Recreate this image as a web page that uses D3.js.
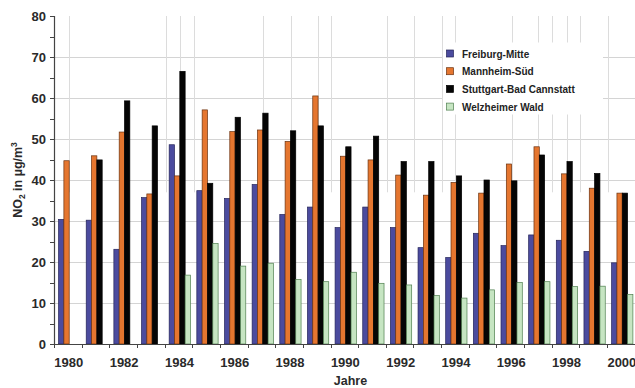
<!DOCTYPE html>
<html>
<head>
<meta charset="utf-8">
<script src="https://cdn.jsdelivr.net/npm/d3@7"></script>
<style>
  html, body { margin: 0; padding: 0; background: #fff; }
  svg { display: block; font-family: "Liberation Sans", Arial, sans-serif; }
</style>
</head>
<body>
<svg id="chart" width="635" height="388"></svg>
<script>
// ---- data ----
const years = d3.range(1980, 2001);
const seriesNames = ["Freiburg-Mitte", "Mannheim-Süd", "Stuttgart-Bad Cannstatt", "Welzheimer Wald"];
const freiburg  = [30.4, 30.2, 23.1, 35.7, 48.6, 37.4, 35.5, 38.9, 31.6, 33.4, 28.4, 33.4, 28.4, 23.5, 21.1, 27.0, 24.0, 26.6, 25.3, 22.6, 19.8];
const mannheim  = [44.7, 45.9, 51.7, 36.6, 41.0, 57.1, 51.8, 52.2, 49.4, 60.5, 45.8, 44.9, 41.2, 36.3, 39.4, 36.8, 43.9, 48.1, 41.5, 38.0, 36.8];
const stuttgart = [null, 44.9, 59.3, 53.2, 66.5, 39.2, 55.3, 56.3, 52.0, 53.2, 48.1, 50.7, 44.5, 44.5, 41.0, 40.0, 39.8, 46.1, 44.5, 41.6, 36.8];
const welzheim  = [null, null, null, null, 16.8, 24.5, 19.0, 19.7, 15.7, 15.2, 17.5, 14.8, 14.4, 11.8, 11.2, 13.2, 15.0, 15.2, 14.0, 14.1, 12.1];
const yTicks = [0, 10, 20, 30, 40, 50, 60, 70, 80];
const yMinorTicks = d3.range(0, 85, 5);
const xTickLabels = [1980, 1982, 1984, 1986, 1988, 1990, 1992, 1994, 1996, 1998, 2000];
// faint vertical lines visible in the upper part of the original scan (in year units)
const ghostLines = [1980.04, 1983.54, 1984.06, 1984.56, 1987.05, 1988.06, 1989.06, 1989.52, 1991.53, 1992.53, 1993.52, 1994.0, 1996.05, 1997.02, 1997.5, 1998.04, 1998.52, 1999.55];

const seriesData = [freiburg, mannheim, stuttgart, welzheim];
const fills   = ["#4b4b9e", "#e5762f", "#050505", "#c6e5c2"];
const strokes = ["#25255a", "#6a3210", "#000000", "#4f7f4f"];

// ---- layout ----
const svg = d3.select("#chart");
const mLeft = 54, mRight = 634.7, mTop = 16, mBottom = 344;

const x0 = d3.scaleBand().domain(years).range([mLeft, mRight]).padding(0);
const bw = x0.bandwidth();
const x1 = d3.scaleBand().domain(d3.range(4)).range([bw * 0.165, bw * 0.935]).padding(0);
const xc = d3.scaleLinear().domain([1980, 2000]).range([x0(1980) + bw / 2, x0(2000) + bw / 2]);
const y = d3.scaleLinear().domain([0, 80]).range([mBottom, mTop]);

// horizontal grid
svg.append("g").selectAll("line").data(yTicks.filter(v => v > 0 && v < 80)).join("line")
  .attr("x1", mLeft).attr("x2", 635)
  .attr("y1", d => Math.round(y(d)) + 0.5).attr("y2", d => Math.round(y(d)) + 0.5)
  .attr("stroke", "#d4d4d4").attr("stroke-width", 1);

// faint vertical lines (upper part only)
svg.append("g").selectAll("line").data(ghostLines).join("line")
  .attr("x1", d => Math.round(xc(d)) + 0.5).attr("x2", d => Math.round(xc(d)) + 0.5)
  .attr("y1", mTop).attr("y2", y(37))
  .attr("stroke", "#dcdcdc").attr("stroke-width", 1);

// legend background (hides grid)
const legX = 450, legY = 53.5, legStep = 17.7;
svg.append("rect").attr("x", legX - 7).attr("y", legY - 11).attr("width", 160).attr("height", 72).attr("fill", "#fff");

// bars
const barsG = svg.append("g");
years.forEach((yr, i) => {
  seriesData.forEach((arr, s) => {
    const v = arr[i];
    if (v == null) return;
    barsG.append("rect")
      .attr("x", x0(yr) + x1(s))
      .attr("y", y(v))
      .attr("width", x1.bandwidth())
      .attr("height", y(0) - y(v))
      .attr("fill", fills[s])
      .attr("stroke", strokes[s])
      .attr("stroke-width", 0.7);
  });
});

// y axis
const axisColor = "#444";
svg.append("line").attr("x1", mLeft + 0.5).attr("x2", mLeft + 0.5).attr("y1", mTop).attr("y2", mBottom)
  .attr("stroke", axisColor).attr("stroke-width", 1.2);
svg.append("g").selectAll("line").data(yMinorTicks).join("line")
  .attr("x1", mLeft - 4).attr("x2", mLeft)
  .attr("y1", d => Math.round(y(d)) + 0.5).attr("y2", d => Math.round(y(d)) + 0.5)
  .attr("stroke", axisColor).attr("stroke-width", 1);
svg.append("g").selectAll("text").data(yTicks).join("text")
  .attr("x", mLeft - 8).attr("y", d => y(d) + 4.5)
  .attr("text-anchor", "end")
  .attr("font-size", 13).attr("font-weight", "bold").attr("fill", "#2a2a2a")
  .text(d => d);

// x axis
svg.append("line").attr("x1", mLeft).attr("x2", 635).attr("y1", mBottom + 0.5).attr("y2", mBottom + 0.5)
  .attr("stroke", axisColor).attr("stroke-width", 1.2);
svg.append("g").selectAll("line").data(years.concat([2001])).join("line")
  .attr("x1", d => Math.round(d === 2001 ? mRight : x0(d)) + 0.5)
  .attr("x2", d => Math.round(d === 2001 ? mRight : x0(d)) + 0.5)
  .attr("y1", mBottom).attr("y2", mBottom + 4)
  .attr("stroke", axisColor).attr("stroke-width", 1);
svg.append("g").selectAll("text").data(xTickLabels).join("text")
  .attr("x", d => x0(d) + bw / 2 + 1).attr("y", mBottom + 23)
  .attr("text-anchor", "middle")
  .attr("font-size", 13).attr("font-weight", "bold").attr("fill", "#2a2a2a")
  .text(d => d);

// axis titles
svg.append("text").attr("x", (mLeft + 635) / 2 + 6).attr("y", 385)
  .attr("text-anchor", "middle").attr("font-size", 12.5).attr("font-weight", "bold").attr("fill", "#2a2a2a")
  .text("Jahre");

const yt = svg.append("text")
  .attr("transform", "translate(22,180) rotate(-90)")
  .attr("text-anchor", "middle").attr("font-size", 12.5).attr("font-weight", "bold").attr("fill", "#2a2a2a");
yt.append("tspan").text("NO");
yt.append("tspan").attr("font-size", 8.5).attr("dy", 3).text("2");
yt.append("tspan").attr("dy", -3).text(" in µg/m");
yt.append("tspan").attr("font-size", 8.5).attr("dy", -5).text("3");

// legend
const leg = svg.append("g");
seriesNames.forEach((name, s) => {
  const cy = legY + s * legStep;
  leg.append("rect").attr("x", legX - 3.5).attr("y", cy - 3.5).attr("width", 7).attr("height", 7)
    .attr("fill", fills[s]).attr("stroke", strokes[s]).attr("stroke-width", 0.7);
  leg.append("text").attr("x", legX + 12).attr("y", cy + 4)
    .attr("font-size", 10).attr("font-weight", "bold").attr("fill", "#222")
    .text(name);
});
</script>
</body>
</html>
